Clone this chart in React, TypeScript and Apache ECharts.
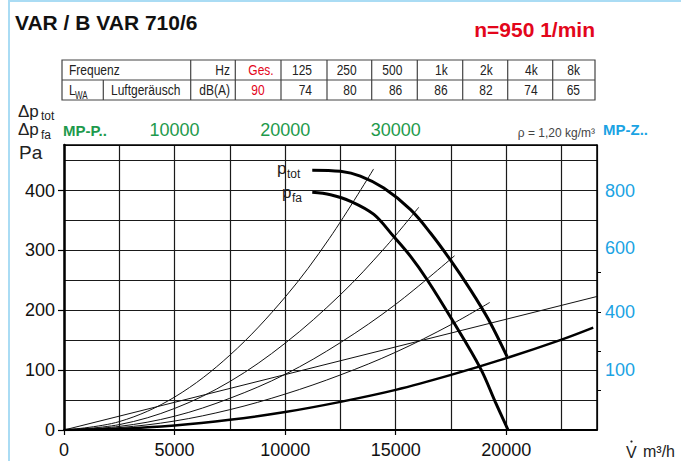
import React, { useEffect, useRef } from 'react';
import * as echarts from 'echarts';

// ---- axis ticks / labels ----
const flowTicks = [0, 5000, 10000, 15000, 20000];
const topFlowTicks = [10000, 20000, 30000];
const pressureTicks = [0, 100, 200, 300, 400];
const rightLabelPos = [100, 197, 304, 400];
const rightLabelText = ['100', '400', '600', '800'];
const rightTickPos = [67, 132, 197, 263];

// ---- sound table ----
const freqLabels = ['125', '250', '500', '1k', '2k', '4k', '8k'];
const lwaValues = [74, 80, 86, 86, 82, 74, 65];
const lwaTotal = 90;

// ---- fan curves (V m3/h, Pa) ----
const pTot = [
  [11225, 434], [12500, 432], [13400, 424], [14460, 404], [15670, 368],
  [16570, 329], [17470, 284], [18380, 234], [19200, 184], [20040, 122],
];
const pFa = [
  [11225, 397], [12050, 393], [12960, 382], [14010, 360], [14910, 323],
  [15670, 290], [16420, 251], [17550, 184], [18830, 103], [19500, 47], [20080, 0],
];
// ---- system curves ----
const sys1 = [[0, 0], [2500, 14], [5000, 55], [7500, 125], [10000, 222], [12000, 320], [14000, 436]];
const sys2 = [[0, 0], [2500, 9], [5000, 36], [7500, 81], [10000, 145], [12500, 226], [14500, 304], [16040, 372]];
const sys3 = [[0, 0], [2500, 6], [5000, 23], [7500, 53], [10000, 93], [12500, 146], [15000, 210], [17660, 291]];
const sys4 = [[0, 0], [2500, 4], [5000, 15], [7500, 34], [10000, 60], [12500, 92], [15000, 130], [17500, 176], [19250, 213]];
const sysLinear = [[0, 0], [24100, 223]];
const sysMain = [[0, 0], [2500, 2], [5000, 7.5], [7500, 17], [10000, 30], [12500, 47], [15000, 67], [17500, 92], [20000, 120], [22500, 151], [23930, 171]];

const SANS = '"Liberation Sans", Arial, Helvetica, sans-serif';
const GREEN = '#1e9a4c';
const BLUE = '#1ba3e3';
const RED = '#e3061b';

const X_MAX = 24100;
const Y_MAX = 476;

function txt(x: number, y: number, text: string, o: any = {}) {
  const align = o.align || 'left';
  return {
    type: 'text',
    x,
    y,
    scaleX: o.scaleX || 1,
    silent: true,
    z: 10,
    style: {
      text,
      x: 0,
      y: 0,
      fill: o.color || '#1a1a1a',
      fontSize: o.size || 16,
      fontFamily: o.family || SANS,
      fontWeight: o.weight || 'normal',
      align,
      textAlign: align,
      verticalAlign: 'middle',
      textVerticalAlign: 'middle',
    },
  };
}

function line(x1: number, y1: number, x2: number, y2: number, color: string, w: number) {
  return { type: 'line', silent: true, shape: { x1, y1, x2, y2 }, style: { stroke: color, lineWidth: w } };
}

function buildTable() {
  const els: any[] = [];
  const left = 62, right = 595, top = 60, mid = 80, bottom = 100;
  const colEdges = [190.7, 235.3, 281, 327, 371.7, 417.3, 462.7, 507.7, 552.7];
  const stroke = '#444';
  els.push({ type: 'rect', silent: true, shape: { x: left, y: top, width: right - left, height: bottom - top }, style: { fill: 'none', stroke, lineWidth: 1.2 } });
  els.push(line(left, mid, right, mid, stroke, 1.2));
  colEdges.forEach((cx) => els.push(line(cx, top, cx, bottom, stroke, 1.2)));
  els.push(line(103.3, mid, 103.3, bottom, stroke, 1.2));
  const f = { size: 15, scaleX: 0.8, color: '#222' };
  const r1 = 70.5, r2 = 90.5;
  els.push(txt(69, r1, 'Frequenz', f));
  els.push(txt(69, r2, 'L', f));
  els.push(txt(75, r2 + 5, 'WA', { ...f, size: 10 }));
  els.push(txt(111, r2, 'Luftgeräusch', f));
  els.push(txt(230, r1, 'Hz', { ...f, align: 'right' }));
  els.push(txt(230, r2, 'dB(A)', { ...f, align: 'right' }));
  els.push(txt(261, r1, 'Ges.', { ...f, align: 'center', color: RED }));
  els.push(txt(258, r2, String(lwaTotal), { ...f, align: 'center', color: RED }));
  const cellRights = [327, 371.7, 417.3, 462.7, 507.7, 552.7, 595];
  freqLabels.forEach((lab, i) => {
    els.push(txt(cellRights[i] - 15, r1, lab, { ...f, align: 'right' }));
    els.push(txt(cellRights[i] - 15, r2, String(lwaValues[i]), { ...f, align: 'right' }));
  });
  return els;
}

export default function App() {
  const ref = useRef<HTMLDivElement>(null);
  useEffect(() => {
    if (!ref.current) return;
    const chart = echarts.init(ref.current, undefined, { renderer: 'svg' });
    const thin = (data: number[][]) => ({
      type: 'line', data, showSymbol: false, smooth: 0.35,
      lineStyle: { color: '#111', width: 1 }, silent: true, z: 3,
    });
    const thick = (data: number[][], w: number) => ({
      type: 'line', data, showSymbol: false, smooth: 0.35,
      lineStyle: { color: '#000', width: w }, silent: true, z: 4,
    });
    const plain = (v: number) => String(v);
    const gridLine = { show: true, lineStyle: { color: '#1a1a1a', width: 1.2 } };
    const off = { show: false };
    const graphic: any[] = [
      line(9, 0, 9, 461, '#aadcf4', 2),
      line(9, 1, 681, 1, '#aadcf4', 2),
      txt(15, 22, 'VAR / B VAR 710/6', { size: 21, weight: 'bold', color: '#111' }),
      txt(595, 29, 'n=950 1/min', { size: 21, weight: 'bold', color: RED, align: 'right' }),
      ...buildTable(),
      txt(18, 111, 'Δp', { size: 17, color: '#222' }),
      txt(41, 116, 'tot', { size: 12, color: '#222' }),
      txt(18, 129, 'Δp', { size: 17, color: '#222' }),
      txt(41, 135, 'fa', { size: 12, color: '#222' }),
      txt(19, 152, 'Pa', { size: 19, color: '#222' }),
      txt(63, 130, 'MP-P..', { size: 15, weight: 'bold', color: GREEN }),
      txt(603, 129, 'MP-Z..', { size: 15, weight: 'bold', color: BLUE }),
      txt(595, 133, 'ρ = 1,20 kg/m³', { size: 12, color: '#444', align: 'right' }),
      txt(277, 168, 'p', { size: 17, color: '#222' }),
      txt(287, 174, 'tot', { size: 12, color: '#222' }),
      txt(282, 192, 'p', { size: 17, color: '#222' }),
      txt(292, 198, 'fa', { size: 12, color: '#222' }),
      txt(626, 452, 'V', { size: 16, color: '#222' }),
      { type: 'circle', silent: true, shape: { cx: 631.5, cy: 441.5, r: 1.1 }, style: { fill: '#222' } },
      txt(643, 451, 'm³/h', { size: 16, color: '#222' }),
    ];
    chart.setOption({
      animation: false,
      backgroundColor: '#fff',
      grid: { left: 64, top: 145, right: 84, bottom: 31, containLabel: false },
      xAxis: [
        {
          // bottom axis: grid lines every 2500
          type: 'value', position: 'bottom', min: 0, max: X_MAX, interval: 2500,
          axisLine: { show: true, onZero: false, lineStyle: { color: '#000', width: 2 } },
          axisTick: off, axisLabel: off, splitLine: gridLine,
        },
        {
          type: 'value', position: 'top', min: 0, max: X_MAX * 2,
          axisLine: { show: true, onZero: false, lineStyle: { color: '#000', width: 1.5 } },
          axisTick: off,
          axisLabel: { customValues: topFlowTicks, formatter: plain, fontSize: 18, color: GREEN, fontFamily: SANS, margin: 6 },
          splitLine: off,
        },
        {
          // bottom axis: labels + ticks
          type: 'value', position: 'bottom', min: 0, max: X_MAX,
          axisLine: off,
          axisTick: { show: true, customValues: flowTicks, length: 5, lineStyle: { color: '#000', width: 1.2 } },
          axisLabel: { customValues: flowTicks, formatter: plain, fontSize: 18, color: '#111', fontFamily: SANS, margin: 11 },
          splitLine: off,
        },
      ],
      yAxis: [
        {
          type: 'value', position: 'left', min: 0, max: Y_MAX, interval: 50,
          axisLine: { show: true, onZero: false, lineStyle: { color: '#000', width: 2.5 } },
          axisTick: off, axisLabel: off, splitLine: gridLine,
        },
        {
          type: 'value', position: 'right', min: 0, max: Y_MAX,
          axisLine: { show: true, onZero: false, lineStyle: { color: '#000', width: 1.5 } },
          axisTick: { show: true, customValues: rightTickPos, length: 4, lineStyle: { color: '#000', width: 1 } },
          axisLabel: {
            customValues: rightLabelPos, fontSize: 18, color: BLUE, fontFamily: SANS, margin: 8,
            formatter: (v: number) => {
              const i = rightLabelPos.indexOf(v);
              return i >= 0 ? rightLabelText[i] : '';
            },
          },
          splitLine: off,
        },
        {
          type: 'value', position: 'left', min: 0, max: Y_MAX,
          axisLine: off,
          axisTick: { show: true, customValues: pressureTicks, length: 6, lineStyle: { color: '#000', width: 1.2 } },
          axisLabel: { customValues: pressureTicks, formatter: plain, fontSize: 18, color: '#111', fontFamily: SANS, margin: 9 },
          splitLine: off,
        },
      ],
      series: [
        thin(sys1), thin(sys2), thin(sys3), thin(sys4),
        { ...thin(sysLinear), smooth: false },
        thick(sysMain, 2.5),
        thick(pTot, 3),
        thick(pFa, 3),
      ],
      graphic,
    });
    return () => chart.dispose();
  }, []);
  return (
    <div
      ref={ref}
      style={{ position: 'fixed', left: 0, top: 0, width: 681, height: 461, background: '#fff' }}
    />
  );
}
